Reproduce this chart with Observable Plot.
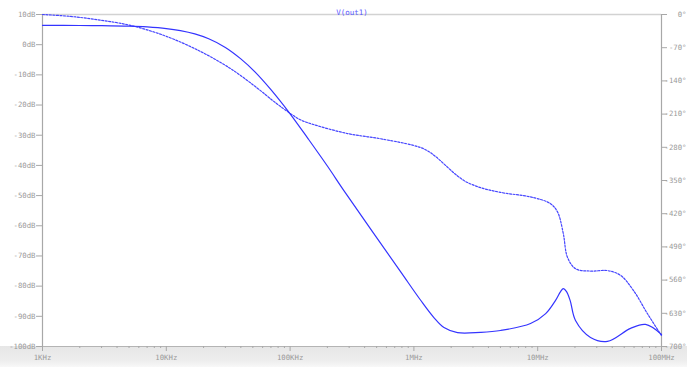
<!DOCTYPE html>
<html>
<head>
<meta charset="utf-8">
<script src="https://cdn.jsdelivr.net/npm/d3@7"></script>
<script src="https://cdn.jsdelivr.net/npm/@observablehq/plot@0.6"></script>
<style>
  body { margin: 0; background: #fff; }
  #chart {
    position: relative; width: 687px; height: 367px;
    background: linear-gradient(to bottom, #fff 0, #fff 346px, #e6e6e6 346px, #eeeeee 361px, #f8f8f8 367px);
  }
  #chart svg { display: block; background: transparent; }
</style>
</head>
<body>
<div id="chart"></div>
<script>
// AC analysis of V(out1): magnitude (dB, solid) and phase (degrees, dashed)
const title = "V(out1)";

const magFreq = [1e3, 2e3, 3e3, 5e3, 7e3, 10e3, 13e3, 17e3, 22e3, 30e3, 40e3, 52e3, 70e3,
  100e3, 140e3, 200e3, 280e3, 780e3, 1.13e6, 1.45e6, 1.75e6, 2.25e6, 3.45e6, 5.01e6, 8.75e6,
  11.6e6, 13.9e6, 15.3e6, 16.1e6, 17.1e6, 18.3e6, 20.2e6, 26.7e6, 36.6e6, 56.2e6, 74.3e6, 1e8];
const magDb = [6.4, 6.36, 6.3, 6.13, 5.87, 5.35, 4.67, 3.57, 1.95, -0.9, -4.7, -9.0, -14.9,
  -22.9, -31.2, -40.2, -49.1, -75.2, -84.6, -90.4, -93.7, -95.4, -95.3, -94.7, -92.4,
  -89.1, -84.8, -81.8, -80.8, -81.8, -84.8, -91.4, -97.0, -98.3, -94.0, -92.7, -96.0];

const phaseFreq = [1e3, 1.68e3, 2.94e3, 5.14e3, 10.0e3, 18.9e3, 33.0e3, 53.6e3, 76.2e3, 100.7e3,
  121e3, 154.5e3, 291e3, 537e3, 993e3, 1.24e6, 1.49e6, 1.80e6, 2.17e6, 2.61e6, 3.45e6, 5.01e6,
  9.25e6, 12.7e6, 14.5e6, 16.1e6, 17.4e6, 20.2e6, 26.7e6, 36.6e6, 46.7e6, 59.4e6, 77.1e6, 1e8];
const phaseDeg = [0, -4, -12, -23, -46, -78, -114, -154, -186, -209,
  -222, -232, -251, -262, -276, -285, -299, -318, -337, -352, -365, -375,
  -386, -399, -417, -462, -512, -536, -541, -540, -550, -582, -631, -677];

const dbTicks = [10, 0, -10, -20, -30, -40, -50, -60, -70, -80, -90, -100];
const phaseTicks = [0, -70, -140, -210, -280, -350, -420, -490, -560, -630, -700];
const freqTicks = [1e3, 1e4, 1e5, 1e6, 1e7, 1e8];
const freqLabels = ["1KHz", "10KHz", "100KHz", "1MHz", "10MHz", "100MHz"];

// phase shares the dB scale: 0° .. -700° spans 10 dB .. -100 dB
const degToDb = d => 10 + d * 110 / 700;
const dbToDeg = v => Math.round((v - 10) * 700 / 110);

const magnitude = magFreq.map((f, i) => ({f, v: magDb[i]}));
const phase = phaseFreq.map((f, i) => ({f, v: degToDb(phaseDeg[i])}));
const minorTicks = d3.range(3, 8).flatMap(e => d3.range(2, 10).map(k => k * 10 ** e));

const grey = "#9a9a9a";
const font = "DejaVu Sans Mono, monospace";

const chart = Plot.plot({
  width: 687,
  height: 367,
  marginLeft: 42,
  marginRight: 26,
  marginTop: 14,
  marginBottom: 21,
  style: {fontFamily: font, fontSize: "7.3px", color: grey, background: "transparent", overflow: "visible"},
  x: {type: "log", domain: [1e3, 1e8], label: null},
  y: {domain: [-100, 10], label: null},
  marks: [
    Plot.ruleY([10], {stroke: "#d2d2d2", strokeWidth: 1.5}),
    Plot.ruleY([-100], {stroke: "#b4b4b4"}),
    Plot.ruleX([1e3, 1e8], {stroke: "#a8a8a8", strokeWidth: 1.2}),
    Plot.axisY(dbTicks, {anchor: "left", label: null, tickSize: 6, tickPadding: 1, stroke: "#a8a8a8",
      tickFormat: d => `${d}dB`}),
    Plot.axisY(phaseTicks.map(degToDb), {anchor: "right", label: null, tickSize: 5, tickPadding: 20,
      textAnchor: "end", stroke: "#a8a8a8", tickFormat: d => `${dbToDeg(d)}°`}),
    Plot.axisX(minorTicks, {anchor: "bottom", label: null, tickSize: 2, stroke: "#a8a8a8", tickFormat: () => ""}),
    Plot.axisX(freqTicks, {anchor: "bottom", label: null, tickSize: 5, tickPadding: 3, stroke: "#a8a8a8",
      tickFormat: d => freqLabels[Math.round(Math.log10(d)) - 3]}),
    Plot.line(phase, {x: "f", y: "v", curve: "catmull-rom", stroke: "#4646ff",
      strokeWidth: 1.2, strokeDasharray: "2,1.5"}),
    Plot.line(magnitude, {x: "f", y: "v", curve: "catmull-rom", stroke: "#3434ff", strokeWidth: 1.2}),
    Plot.text([title], {frameAnchor: "top", dy: -5, fill: "#5a5aff", fontSize: 7.5})
  ]
});

document.getElementById("chart").append(chart);
</script>
</body>
</html>
